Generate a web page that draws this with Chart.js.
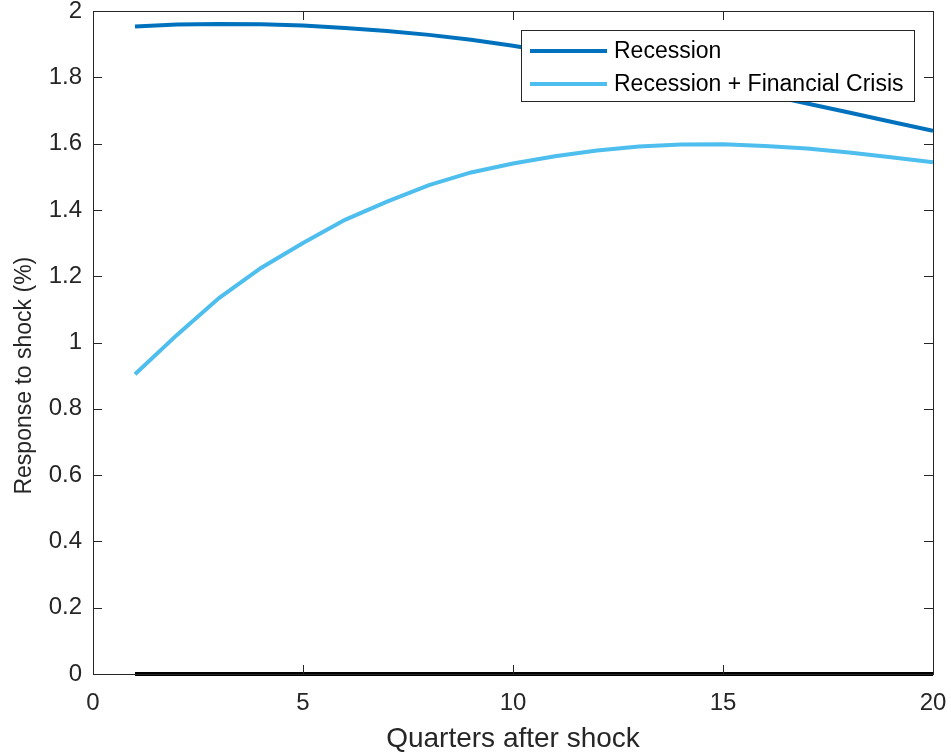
<!DOCTYPE html>
<html>
<head>
<meta charset="utf-8">
<script src="https://cdn.jsdelivr.net/npm/chart.js@4.4.1/dist/chart.umd.min.js"></script>
<style>
  html, body { margin: 0; padding: 0; background: #ffffff; }
  #wrap { width: 951px; height: 754px; position: relative; }
</style>
</head>
<body>
<div id="wrap"><canvas id="c" width="951" height="754"></canvas></div>
<script>
// Quarters after the shock
const quarters = [1, 2, 3, 4, 5, 6, 7, 8, 9, 10, 11, 12, 13, 14, 15, 16, 17, 18, 19, 20];

// Response to shock (%)
const recession = [1.953, 1.959, 1.961, 1.960, 1.956, 1.949, 1.940, 1.928, 1.913, 1.895,
                   1.874, 1.851, 1.827, 1.802, 1.776, 1.749, 1.721, 1.694, 1.666, 1.639];
const recessionCrisis = [0.904, 1.023, 1.134, 1.225, 1.300, 1.370, 1.425, 1.475, 1.513, 1.540,
                         1.562, 1.579, 1.591, 1.597, 1.598, 1.593, 1.585, 1.573, 1.559, 1.544];
const zeroLine = [0, 0, 0, 0, 0, 0, 0, 0, 0, 0, 0, 0, 0, 0, 0, 0, 0, 0, 0, 0];

const seriesNames = ['Recession', 'Recession + Financial Crisis'];
const xTicks = [0, 5, 10, 15, 20];
const yTicks = [0, 0.2, 0.4, 0.6, 0.8, 1, 1.2, 1.4, 1.6, 1.8, 2];
const yTitle = 'Response to shock (%)';

const AXIS = '#262626';
const FONT = '"Liberation Sans", Arial, Helvetica, sans-serif';

const pts = vals => quarters.map((q, i) => ({ x: q, y: vals[i] }));

// Box around the axes, inward tick marks on all four sides, y title and the legend box
const boxPlugin = {
  id: 'boxAndLegend',
  afterDatasetsDraw(chart) {
    const { ctx, chartArea: a, scales } = chart;
    ctx.save();
    ctx.strokeStyle = AXIS;
    ctx.lineWidth = 1;
    ctx.strokeRect(Math.round(a.left) + 0.5, Math.round(a.top) + 0.5,
                   Math.round(a.right - a.left), Math.round(a.bottom - a.top));
    const tl = 9;
    ctx.beginPath();
    xTicks.forEach(v => {
      const px = Math.round(scales.x.getPixelForValue(v)) + 0.5;
      ctx.moveTo(px, a.bottom); ctx.lineTo(px, a.bottom - tl);
      ctx.moveTo(px, a.top); ctx.lineTo(px, a.top + tl);
    });
    yTicks.forEach(v => {
      const py = Math.round(scales.y.getPixelForValue(v)) + 0.5;
      ctx.moveTo(a.left, py); ctx.lineTo(a.left + tl, py);
      ctx.moveTo(a.right, py); ctx.lineTo(a.right - tl, py);
    });
    ctx.stroke();

    // vertical axis title
    ctx.translate(25, scales.y.getPixelForValue(0.9));
    ctx.rotate(-Math.PI / 2);
    ctx.font = '23px ' + FONT;
    ctx.fillStyle = AXIS;
    ctx.textAlign = 'center';
    ctx.textBaseline = 'middle';
    ctx.fillText(yTitle, 0, 0);
    ctx.restore();
  },
  afterDraw(chart) {
    const { ctx, chartArea: a } = chart;
    const ds = chart.data.datasets.slice(0, 2);
    const bw = 393, bh = 71;
    const bx = a.right - 19 - bw, by = a.top + 19;
    ctx.save();
    ctx.fillStyle = '#ffffff';
    ctx.fillRect(bx, by, bw, bh);
    ctx.strokeStyle = AXIS;
    ctx.lineWidth = 1;
    ctx.strokeRect(Math.round(bx) + 0.5, Math.round(by) + 0.5, bw, bh);
    ctx.font = '23px ' + FONT;
    ctx.textBaseline = 'middle';
    ctx.fillStyle = '#000000';
    ds.forEach((d, i) => {
      const cy = by + 21 + i * 33;
      ctx.strokeStyle = d.borderColor;
      ctx.lineWidth = 4;
      ctx.beginPath();
      ctx.moveTo(bx + 9, cy); ctx.lineTo(bx + 86, cy);
      ctx.stroke();
      ctx.fillText(d.label, bx + 93, cy + 1);
    });
    ctx.restore();
  }
};

new Chart(document.getElementById('c'), {
  type: 'line',
  data: {
    datasets: [
      { label: seriesNames[0], data: pts(recession), borderColor: '#0072BD',
        borderWidth: 4, pointRadius: 0, tension: 0, fill: false },
      { label: seriesNames[1], data: pts(recessionCrisis), borderColor: '#4DBEEE',
        borderWidth: 4, pointRadius: 0, tension: 0, fill: false },
      { label: 'zero', data: pts(zeroLine), borderColor: '#000000',
        borderWidth: 4, pointRadius: 0, tension: 0, fill: false, clip: false }
    ]
  },
  options: {
    responsive: false,
    animation: false,
    layout: { padding: { top: 11, right: 18, left: 0, bottom: 0 } },
    plugins: { legend: { display: false }, tooltip: { enabled: false } },
    scales: {
      x: {
        type: 'linear', min: 0, max: 20,
        afterBuildTicks: s => { s.ticks = xTicks.map(v => ({ value: v })); },
        afterFit: s => { s.height = 80; s.paddingLeft = 0; s.paddingRight = 0; },
        grid: { display: false, drawTicks: false },
        border: { display: false },
        ticks: { color: AXIS, padding: 15, font: { family: FONT, size: 24 }, maxRotation: 0,
                 callback: v => String(v) },
        title: { display: true, text: 'Quarters after shock', color: AXIS,
                 font: { family: FONT, size: 28 }, padding: { top: 0, bottom: -2 } }
      },
      y: {
        type: 'linear', min: 0, max: 2,
        afterBuildTicks: s => { s.ticks = yTicks.map(v => ({ value: v })); },
        afterFit: s => { s.width = 93; s.paddingTop = 0; s.paddingBottom = 0; },
        grid: { display: false, drawTicks: false },
        border: { display: false },
        ticks: { color: AXIS, padding: 11, font: { family: FONT, size: 24 },
                 callback: v => String(Math.round(v * 10) / 10) },
        title: { display: false }
      }
    }
  },
  plugins: [boxPlugin]
});
</script>
</body>
</html>
